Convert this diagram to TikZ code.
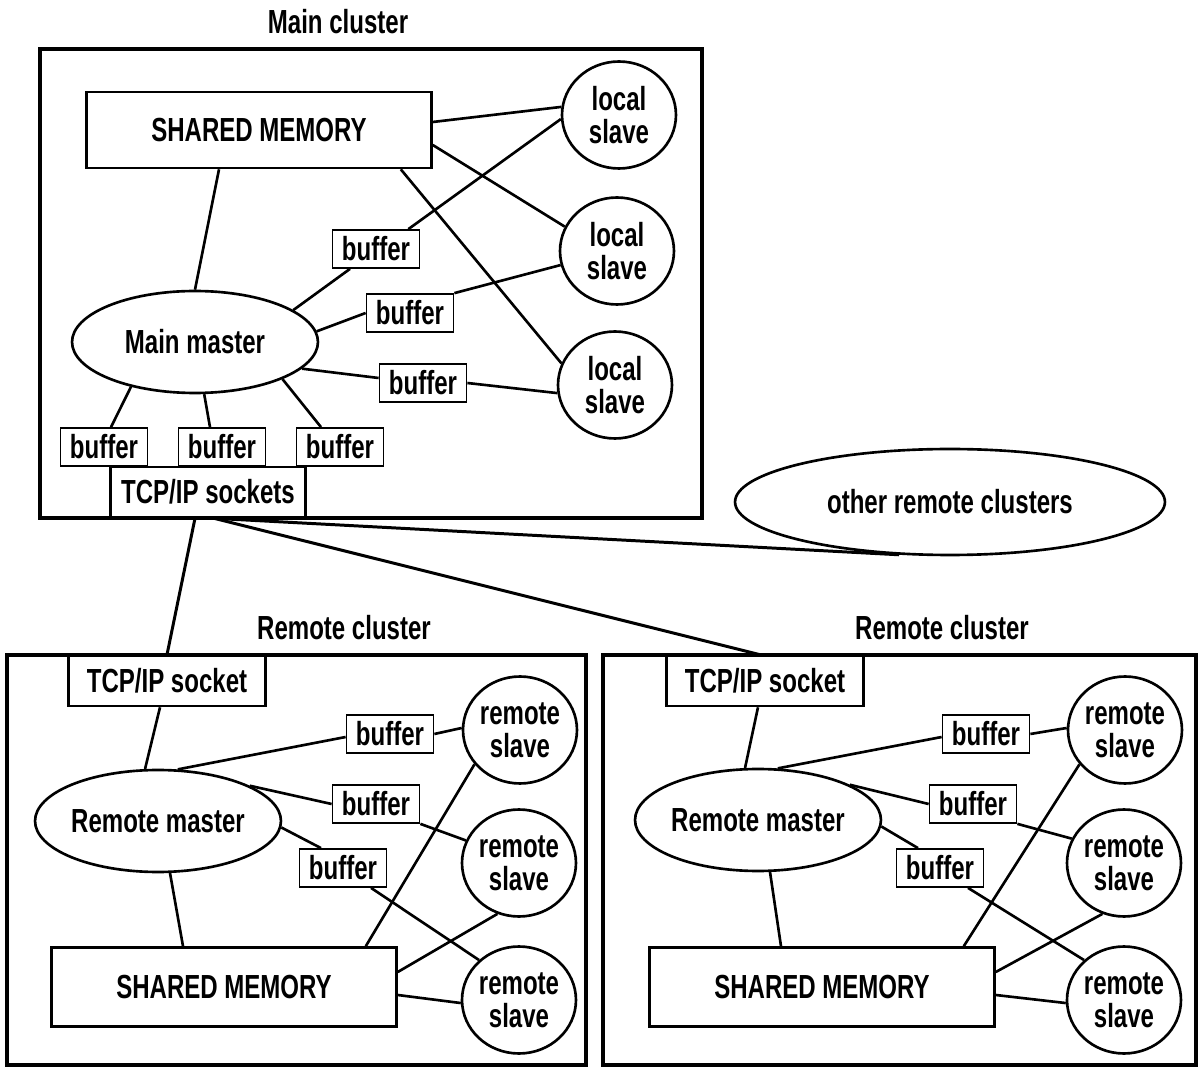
\documentclass[tikz,border=0pt]{standalone}
\usepackage{fontspec}
\setmainfont[FakeStretch=0.72]{Liberation Sans}
\usetikzlibrary{shapes.geometric,calc}
\tikzset{
  cluster/.style={draw, line width=1.8pt},
  memory/.style={draw, line width=1.5pt, minimum width=6.9cm, minimum height=1.52cm},
  master/.style={draw, ellipse, line width=1.5pt, minimum width=4.92cm, minimum height=2.04cm, inner sep=0pt},
  slave/.style={draw, ellipse, line width=1.5pt, minimum width=2.28cm, minimum height=2.14cm, inner sep=0pt, align=center},
  bufbox/.style={draw, line width=1pt, minimum width=1.74cm, minimum height=0.76cm, inner sep=0pt},
  socketbox/.style={draw, line width=1.5pt, minimum width=3.94cm, minimum height=1cm, inner sep=0pt},
  link/.style={line width=1.5pt},
  wan/.style={line width=1.7pt}
}
\begin{document}
\begin{tikzpicture}[x=0.02cm, y=-0.02cm, font=\fontsize{19}{19}\selectfont\bfseries]
  \fill[white] (0,0) rectangle (1198,1067);
  \useasboundingbox (0,0) rectangle (1198,1067);

  % main cluster
  \node (maintitle) at (338,22) {Main cluster};
  \draw[cluster] (40,49) rectangle (702,518);
  \node[memory] (sm0) at (259,130) {SHARED MEMORY};
  \node[master] (mm) at (195,342) {Main master};
  \node[slave] (loc1) at (619,115) {local\\slave};
  \node[slave] (loc2) at (617,251) {local\\slave};
  \node[slave] (loc3) at (615,385) {local\\slave};
  \node[bufbox] (buf1) at (376,249) {buffer};
  \node[bufbox] (buf2) at (410,313) {buffer};
  \node[bufbox] (buf3) at (423,383) {buffer};
  \node[bufbox] (bufL) at (104,447) {buffer};
  \node[bufbox] (bufM) at (222,447) {buffer};
  \node[bufbox] (bufR) at (340,447) {buffer};
  \node[socketbox, minimum width=3.9cm] (tcp) at (208,492) {TCP/IP sockets};

  \node[ellipse, draw, line width=1.5pt, minimum width=8.6cm, minimum height=2.12cm] (other) at (950,502) {other remote clusters};

  % remote cluster, left
  \node (rtitle1) at (344,628) {Remote cluster};
  \draw[cluster] (7,655) rectangle (586,1065);
  \node[socketbox] (sock1) at (167,681) {TCP/IP socket};
  \node[master] (rm1) at (158,821) {Remote master};
  \node[memory, minimum height=1.58cm] (sm1) at (224,987) {SHARED MEMORY};
  \node[bufbox] (bA1) at (390,734) {buffer};
  \node[bufbox] (bB1) at (376,804) {buffer};
  \node[bufbox] (bC1) at (343,868) {buffer};
  \node[slave] (rs11) at (520,730) {remote\\slave};
  \node[slave] (rs12) at (519,863) {remote\\slave};
  \node[slave] (rs13) at (519,1000) {remote\\slave};

  % remote cluster, right
  \node (rtitle2) at (942,628) {Remote cluster};
  \draw[cluster] (603,655) rectangle (1196,1065);
  \node[socketbox] (sock2) at (765,681) {TCP/IP socket};
  \node[master] (rm2) at (758,820) {Remote master};
  \node[memory, minimum height=1.58cm] (sm2) at (822,987) {SHARED MEMORY};
  \node[bufbox] (bA2) at (986,734) {buffer};
  \node[bufbox] (bB2) at (973,804) {buffer};
  \node[bufbox] (bC2) at (940,868) {buffer};
  \node[slave] (rs21) at (1125,730) {remote\\slave};
  \node[slave] (rs22) at (1124,863) {remote\\slave};
  \node[slave] (rs23) at (1124,1000) {remote\\slave};

  \begin{scope}[link]
    \draw ($(sm0.south)+(-40,0)$) -- (mm.north);
    \draw ($(sm0.east)+(0,-8)$) -- (loc1.172);
    \draw ($(sm0.east)+(0,15)$) -- (loc2.155);
    \draw ($(sm0.south east)+(-32,0)$) -- (loc3.158);
    \draw ($(buf1.north east)+(-12,0)$) -- (loc1.184);
    \draw (mm.18) -- ($(buf1.south)+(-26,0)$);
    \draw (mm.5) -- (buf2.west);
    \draw (buf2.north east) -- (loc2.194);
    \draw (mm.-14) -- ($(buf3.west)+(0,-5)$);
    \draw (buf3.east) -- (loc3.188);
    \draw (mm.215) -- ($(bufL.north)+(7,0)$);
    \draw (mm.-80) -- ($(bufM.north)+(-12,0)$);
    \draw (mm.-23) -- ($(bufR.north)+(-19,0)$);
  \end{scope}

  \begin{scope}[wan]
    \draw ($(tcp.south)+(-13,0)$) -- (sock1.north);
    \draw ($(tcp.south)+(6,0)$) -- ($(sock2.north)+(-5,0)$);
    \draw ($(tcp.south)+(6,0)$) -- (other.226);
  \end{scope}

  \begin{scope}[link]
    \draw ($(sock1.south)+(-7,0)$) -- (rm1.104);
    \draw (rm1.69) -- ($(bA1.west)+(0,3)$);
    \draw (rm1.21) -- (bB1.west);
    \draw (rm1.-3) -- ($(bC1.north)+(-22,0)$);
    \draw (bA1.east) -- (rs11.178);
    \draw (bB1.south east) -- (rs12.157);
    \draw ($(bC1.south)+(28,0)$) -- (rs13.135);
    \draw (rm1.-77) -- ($(sm1.north)+(-41,0)$);
    \draw ($(sm1.north east)+(-32,0)$) -- (rs11.217);
    \draw ($(sm1.east)+(0,-15)$) -- (rs12.247);
    \draw ($(sm1.east)+(0,8)$) -- (rs13.183);
  \end{scope}

  \begin{scope}[link]
    \draw ($(sock2.south)+(-7,0)$) -- (rm2.104);
    \draw (rm2.69) -- ($(bA2.west)+(0,3)$);
    \draw (rm2.21) -- (bB2.west);
    \draw (rm2.-3) -- ($(bC2.north)+(-22,0)$);
    \draw (bA2.east) -- (rs21.178);
    \draw (bB2.south east) -- (rs22.155);
    \draw ($(bC2.south)+(28,0)$) -- (rs23.135);
    \draw (rm2.-77) -- ($(sm2.north)+(-41,0)$);
    \draw ($(sm2.north east)+(-32,0)$) -- (rs21.217);
    \draw ($(sm2.east)+(0,-15)$) -- (rs22.247);
    \draw ($(sm2.east)+(0,8)$) -- (rs23.183);
  \end{scope}
\end{tikzpicture}
\end{document}
